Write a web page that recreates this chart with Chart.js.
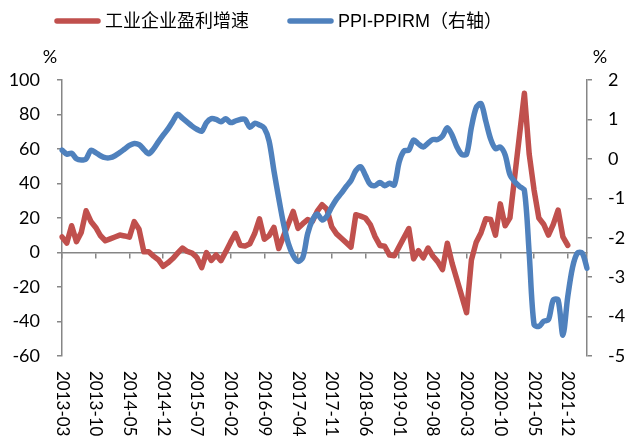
<!DOCTYPE html>
<html lang="zh-CN">
<head>
<meta charset="utf-8">
<title>工业企业盈利增速与PPI-PPIRM</title>
<script src="https://cdn.jsdelivr.net/npm/chart.js@4.4.1/dist/chart.umd.min.js"></script>
<style>
  html, body { margin: 0; padding: 0; background: #fff; }
  #wrap { width: 628px; height: 443px; position: relative; }
</style>
</head>
<body>
<div id="wrap"><canvas id="chart"></canvas></div>
<script>
/* ---------- Data ---------- */
var MONTHS = [
  '2013-03','2013-04','2013-05','2013-06','2013-07','2013-08','2013-09','2013-10','2013-11','2013-12',
  '2014-01','2014-02','2014-03','2014-04','2014-05','2014-06','2014-07','2014-08','2014-09','2014-10','2014-11','2014-12',
  '2015-01','2015-02','2015-03','2015-04','2015-05','2015-06','2015-07','2015-08','2015-09','2015-10','2015-11','2015-12',
  '2016-01','2016-02','2016-03','2016-04','2016-05','2016-06','2016-07','2016-08','2016-09','2016-10','2016-11','2016-12',
  '2017-01','2017-02','2017-03','2017-04','2017-05','2017-06','2017-07','2017-08','2017-09','2017-10','2017-11','2017-12',
  '2018-01','2018-02','2018-03','2018-04','2018-05','2018-06','2018-07','2018-08','2018-09','2018-10','2018-11','2018-12',
  '2019-01','2019-02','2019-03','2019-04','2019-05','2019-06','2019-07','2019-08','2019-09','2019-10','2019-11','2019-12',
  '2020-01','2020-02','2020-03','2020-04','2020-05','2020-06','2020-07','2020-08','2020-09','2020-10','2020-11','2020-12',
  '2021-01','2021-02','2021-03','2021-04','2021-05','2021-06','2021-07','2021-08','2021-09','2021-10','2021-11','2021-12',
  '2022-01','2022-02','2022-03','2022-04'
];

// 工业企业盈利增速 (%), left axis, 2013-03 .. 2021-12
var PROFIT = [
  9, 5.5, 15.5, 6.3, 11.6, 24.2, 18, 14.5, 9.7, 6.8,
  7.9, 9.0, 10.1, 9.6, 8.9, 17.9, 13.5, 0.4, 0.4, -2.1, -4.2, -8.0,
  -6.0, -3.5, -0.4, 2.6, 0.6, -0.3, -2.9, -8.8, -0.1, -4.6, -1.4, -4.7,
  0.5, 6.0, 11.1, 4.2, 3.7, 5.1, 11.0, 19.5, 7.7, 9.8, 14.5, 2.3,
  9.5, 16.6, 23.8, 14.0, 16.7, 19.1, 18.0, 24.0, 27.7, 25.1, 14.9, 10.8,
  8.2, 5.7, 3.1, 21.9, 21.1, 20.0, 16.2, 9.2, 4.1, 3.6, -1.5, -1.9,
  3.4, 8.6, 13.9, -3.7, 1.1, -3.1, 2.6, -2.0, -5.3, -9.9, 5.4, -6.3,
  -15.8, -25.3, -34.9, -4.3, 6.0, 11.5, 19.6, 19.1, 10.1, 28.2, 15.5, 20.1,
  44.2, 68.3, 92.3, 57.0, 36.4, 20.0, 16.4, 10.1, 16.3, 24.6, 9.0, 4.2
];

// PPI-PPIRM (pct pt), right axis, 2013-03 .. 2022-04
var SPREAD = [
  0.22, 0.12, 0.14, 0.0, -0.03, 0.0, 0.22, 0.16, 0.08, 0.03,
  0.03, 0.08, 0.16, 0.25, 0.34, 0.39, 0.36, 0.24, 0.13, 0.25, 0.43, 0.6,
  0.76, 0.95, 1.13, 1.03, 0.93, 0.83, 0.75, 0.7, 0.92, 1.02, 1.0, 0.94,
  1.02, 0.92, 0.96, 1.0, 1.0, 0.8, 0.9, 0.86, 0.78, 0.45, -0.3, -1.0,
  -1.65, -2.15, -2.45, -2.6, -2.5, -1.9, -1.55, -1.4, -1.55, -1.45, -1.22, -1.02,
  -0.87, -0.7, -0.55, -0.3, -0.2, -0.42, -0.65, -0.68, -0.6, -0.68, -0.62, -0.66,
  -0.08, 0.2, 0.22, 0.48, 0.38, 0.3, 0.4, 0.49, 0.49, 0.58, 0.79, 0.6,
  0.3, 0.11, 0.12, 0.8, 1.3, 1.4, 0.95, 0.5, 0.26, 0.3, 0.1, -0.4,
  -0.58, -0.7, -0.8, -2.4, -4.2, -4.25, -4.12, -4.08, -3.58, -3.58, -4.47, -3.5,
  -2.75, -2.39, -2.39, -2.77
];

var LABEL_STEP = 7;
var LEFT_TICKS = { min: -60, max: 100, step: 20 };
var RIGHT_TICKS = { min: -5, max: 2, step: 1 };

/* ---------- Style ---------- */
var RED = '#C0504D';
var BLUE = '#4F81BD';
var AXIS = '#868686';
var TICK_FONT = { family: 'Lato, "Noto Sans", sans-serif', size: 18 };
var LEGEND_FONT = '18px "Liberation Sans", "Noto Sans CJK SC", sans-serif';

/* ---------- Overlay: legend, units, month labels ---------- */
var overlay = {
  id: 'overlay',
  afterDraw: function (chart) {
    var ctx = chart.ctx;
    var area = chart.chartArea;
    var xs = chart.scales.x;
    ctx.save();
    ctx.fillStyle = '#000';

    // unit marks
    ctx.font = TICK_FONT.size + 'px ' + TICK_FONT.family;
    ctx.textAlign = 'center';
    ctx.textBaseline = 'middle';
    ctx.fillText('%', 50, area.top - 23);
    ctx.fillText('%', 600, area.top - 23);

    // month labels, reading top-to-bottom
    ctx.font = '17px ' + TICK_FONT.family;
    ctx.textAlign = 'left';
    MONTHS.forEach(function (m, i) {
      if (i % LABEL_STEP) return;
      ctx.save();
      ctx.translate(xs.getPixelForValue(i), area.bottom + 15);
      ctx.rotate(Math.PI / 2);
      ctx.fillText(m, 0, 0);
      ctx.restore();
    });

    // legend
    var items = [{ x: 55, ds: chart.data.datasets[0] }, { x: 288, ds: chart.data.datasets[1] }];
    ctx.font = LEGEND_FONT;
    ctx.lineCap = 'round';
    ctx.lineWidth = 5.5;
    items.forEach(function (it) {
      ctx.strokeStyle = it.ds.borderColor;
      ctx.beginPath();
      ctx.moveTo(it.x + 2, 21);
      ctx.lineTo(it.x + 43, 21);
      ctx.stroke();
      ctx.fillText(it.ds.label, it.x + 50, 22);
    });
    ctx.restore();
  }
};

/* ---------- Chart ---------- */
new Chart(document.getElementById('chart'), {
  type: 'line',
  data: {
    labels: MONTHS,
    datasets: [
      {
        label: '工业企业盈利增速',
        data: PROFIT,
        yAxisID: 'y',
        borderColor: RED,
        backgroundColor: RED,
        borderWidth: 5.5,
        pointRadius: 0,
        borderJoinStyle: 'round',
        borderCapStyle: 'round',
        tension: 0,
        order: 1
      },
      {
        label: 'PPI-PPIRM（右轴）',
        data: SPREAD,
        yAxisID: 'y1',
        borderColor: BLUE,
        backgroundColor: BLUE,
        borderWidth: 5.5,
        pointRadius: 0,
        borderJoinStyle: 'round',
        borderCapStyle: 'round',
        tension: 0.3,
        order: 0
      }
    ]
  },
  options: {
    responsive: true,
    maintainAspectRatio: false,
    devicePixelRatio: 1,
    animation: false,
    events: [],
    layout: { padding: { top: 80, bottom: 87, left: 0, right: 0 } },
    plugins: { legend: { display: false }, tooltip: { enabled: false } },
    scales: {
      x: {
        type: 'category',
        position: { y: 0 },
        offset: false,
        afterFit: function (s) { s.height = 0; },
        ticks: { display: false, autoSkip: false },
        grid: {
          drawOnChartArea: false,
          drawTicks: true,
          tickLength: 5,
          lineWidth: 1.5,
          color: function (c) { return c.index % LABEL_STEP === 0 ? AXIS : 'rgba(0,0,0,0)'; }
        },
        border: { display: true, color: AXIS, width: 1.5 }
      },
      y: {
        position: 'left',
        min: LEFT_TICKS.min,
        max: LEFT_TICKS.max,
        afterFit: function (s) { s.width = 62; },
        ticks: { stepSize: LEFT_TICKS.step, color: '#000', font: TICK_FONT, padding: 17 },
        grid: { drawOnChartArea: false, drawTicks: true, tickLength: 5, color: AXIS, lineWidth: 1.5 },
        border: { display: true, color: AXIS, width: 1.5 }
      },
      y1: {
        position: 'right',
        min: RIGHT_TICKS.min,
        max: RIGHT_TICKS.max,
        afterFit: function (s) { s.width = 41; },
        ticks: { stepSize: RIGHT_TICKS.step, color: '#000', font: TICK_FONT, padding: 16 },
        grid: { drawOnChartArea: false, drawTicks: true, tickLength: 5, color: AXIS, lineWidth: 1.5 },
        border: { display: true, color: AXIS, width: 1.5 }
      }
    }
  },
  plugins: [overlay]
});
</script>
</body>
</html>
